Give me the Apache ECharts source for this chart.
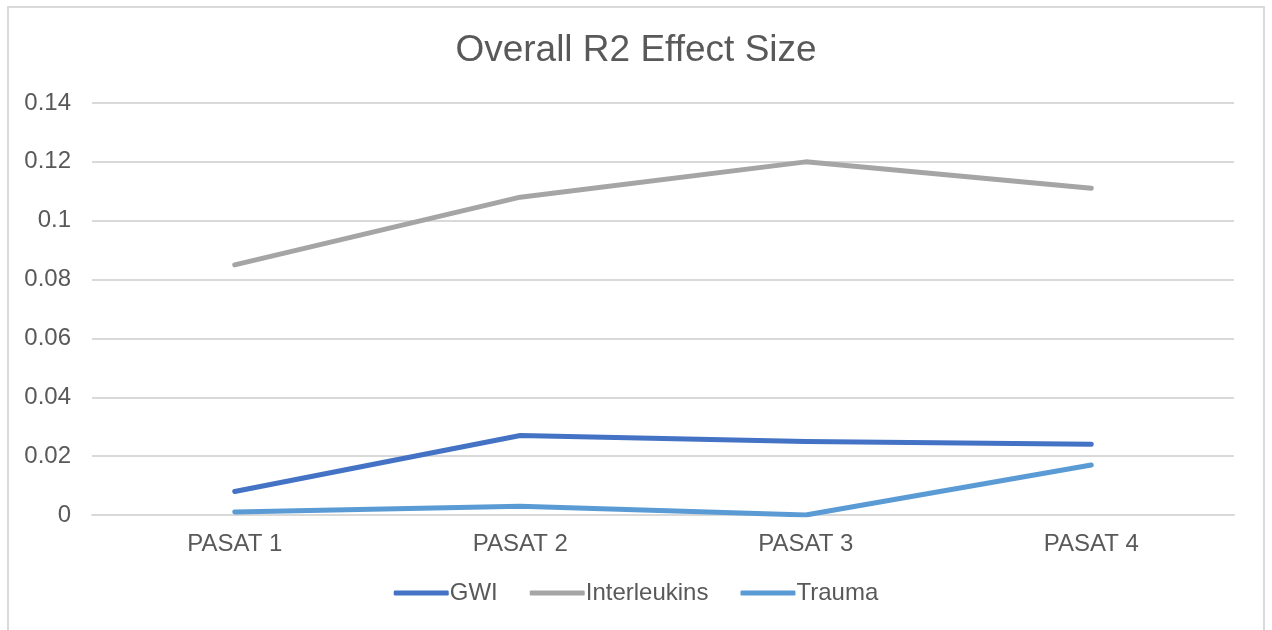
<!DOCTYPE html>
<html>
<head>
<meta charset="utf-8">
<style>
  html, body { margin: 0; padding: 0; background: #fff; }
  #frame { position: absolute; left: 7px; top: 6px; width: 1258px; height: 640px; border: 2px solid #d9d9d9; box-sizing: border-box; }
  #chart { position: absolute; left: 0; top: 0; width: 1272px; height: 630px; }
</style>
<script src="https://cdn.jsdelivr.net/npm/echarts@6/dist/echarts.min.js"></script>
</head>
<body>
<div id="frame"></div>
<div id="chart"></div>
<script>
const categories = ['PASAT 1', 'PASAT 2', 'PASAT 3', 'PASAT 4'];
const gwi = [0.008, 0.027, 0.025, 0.024];
const interleukins = [0.085, 0.108, 0.120, 0.111];
const trauma = [0.001, 0.003, 0.0, 0.017];

const textColor = '#595959';
const font = 'Liberation Sans, Arial, sans-serif';

function line(name, data, color) {
  return {
    name: name,
    type: 'line',
    data: data,
    symbol: 'none',
    lineStyle: { width: 5, color: color, cap: 'round', join: 'round' },
    itemStyle: { color: color }
  };
}

const chart = echarts.init(document.getElementById('chart'));
chart.setOption({
  backgroundColor: 'transparent',
  animation: false,
  title: {
    text: 'Overall R2 Effect Size',
    left: 'center',
    top: 27,
    textStyle: { color: textColor, fontSize: 37, fontWeight: 'normal', fontFamily: font }
  },
  legend: {
    bottom: 20,
    left: 'center',
    itemWidth: 55,
    itemHeight: 5,
    itemGap: 32,
    icon: 'roundRect',
    textStyle: { color: textColor, fontSize: 24, fontFamily: font, padding: [0, 0, 0, -4] },
    data: ['GWI', 'Interleukins', 'Trauma']
  },
  grid: { left: 92, right: 38, top: 103, bottom: 115 },
  xAxis: {
    type: 'category',
    data: categories,
    boundaryGap: true,
    axisLine: { show: true, lineStyle: { color: '#d9d9d9', width: 2 } },
    axisTick: { show: false },
    axisLabel: { color: textColor, fontSize: 24, fontFamily: font, margin: 17 }
  },
  yAxis: {
    type: 'value',
    min: 0,
    max: 0.14,
    interval: 0.02,
    axisLine: { show: false },
    axisTick: { show: false },
    axisLabel: {
      color: textColor, fontSize: 24, fontFamily: font, margin: 21,
      formatter: v => String(Math.round(v * 100) / 100)
    },
    splitLine: { lineStyle: { color: '#d9d9d9', width: 2 } }
  },
  series: [
    line('GWI', gwi, '#4472C4'),
    line('Interleukins', interleukins, '#A5A5A5'),
    line('Trauma', trauma, '#5B9BD5')
  ]
});
</script>
</body>
</html>
